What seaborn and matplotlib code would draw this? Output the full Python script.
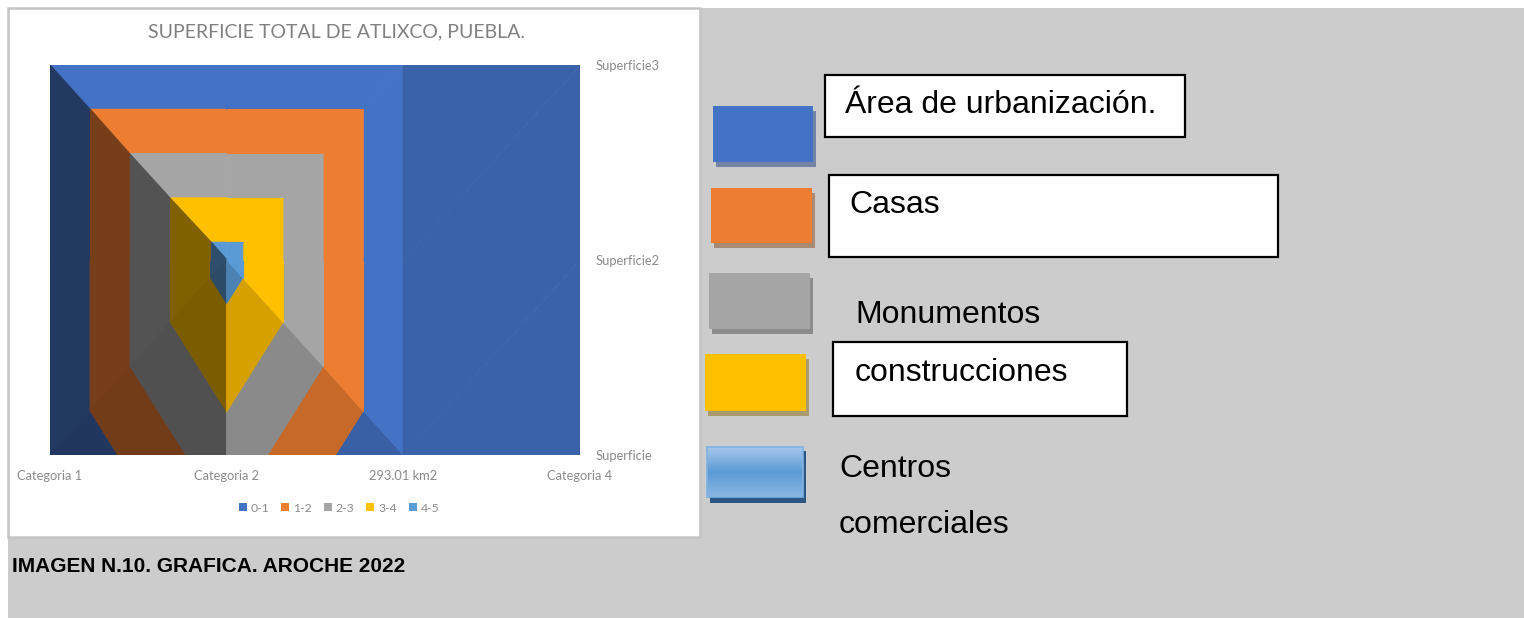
import numpy as np
import matplotlib
matplotlib.use("Agg")
import matplotlib.pyplot as plt
import matplotlib.tri as mtri
from matplotlib.patches import Rectangle, Patch
from matplotlib.colors import to_rgb
import seaborn as sns

# ---------------- data ----------------
categories = ["Categoria 1", "Categoria 2", "293.01 km2", "Categoria 4"]
series_names = ["Superficie", "Superficie2", "Superficie3"]
superficie = [0.0, 2.6, 0.0, 0.0]
superficie2 = [0.0, 4.4, 0.0, 0.0]
superficie3 = [0.0, 0.0, 0.0, 0.0]
band_labels = ["0-1", "1-2", "2-3", "3-4", "4-5"]
band_levels = [0, 1, 2, 3, 4, 5]
band_colors = ["#4472C4", "#ED7D31", "#A5A5A5", "#FFC000", "#5B9BD5"]
title = "SUPERFICIE TOTAL DE ATLIXCO, PUEBLA."
caption = "IMAGEN N.10. GRAFICA. AROCHE 2022"
key_labels = ["Área de urbanización.", "Casas", "Monumentos", "construcciones", "Centros", "comerciales"]

sns.set_theme(style="white")
plt.rcParams["font.family"] = ["Liberation Sans", "DejaVu Sans"]
palette = sns.color_palette(band_colors)
small_font = ["Lato", "DejaVu Sans"]

W, H = 1524, 618
fig = plt.figure(figsize=(W / 100, H / 100), dpi=100)
fig.patch.set_facecolor("white")

# ---------- background / layout layer in pixel coordinates ----------
bg = fig.add_axes([0, 0, 1, 1])
bg.set_xlim(0, W)
bg.set_ylim(H, 0)
bg.axis("off")
bg.add_patch(Rectangle((8, 8), W - 8, H - 8, facecolor="#cccccc", edgecolor="none"))
bg.add_patch(Rectangle((8, 8), 692, 529, facecolor="white", edgecolor="#c4c4c4", lw=1.8))

# ---------- surface (contour) chart ----------
ax = fig.add_axes([50 / W, 1 - 455 / H, 530 / W, 390 / H])
Z = np.array([superficie, superficie2, superficie3])
ny, nx = Z.shape
light = np.array([0.6, 0.6, 0.53])
light = light / np.linalg.norm(light)
zscale = 0.3
levels = [band_levels[0] - 1e-6] + band_levels[1:]

for j in range(ny - 1):
    for i in range(nx - 1):
        corners = [(i, j), (i + 1, j), (i + 1, j + 1), (i, j + 1)]
        vals = [Z[y, x] for x, y in corners]
        k = int(np.argmax(vals))
        tris = [[corners[k], corners[(k + 1) % 4], corners[(k + 2) % 4]],
                [corners[k], corners[(k + 3) % 4], corners[(k + 2) % 4]]]
        for tri in tris:
            xs = np.array([p[0] for p in tri], dtype=float)
            ys = np.array([p[1] for p in tri], dtype=float)
            zs = np.array([Z[p[1], p[0]] for p in tri], dtype=float)
            A = np.column_stack([xs, ys, np.ones(3)])
            gx, gy, _ = np.linalg.solve(A, zs)
            n = np.array([-zscale * gx, -zscale * gy, 1.0])
            n = n / np.linalg.norm(n)
            f = float(np.clip(0.583 + 0.523 * n.dot(light), 0, 1))
            cols = [tuple(np.array(c) * f) for c in palette]
            tr = mtri.Triangulation(xs, ys, triangles=[[0, 1, 2]])
            cs = ax.tricontourf(tr, zs, levels=levels, colors=cols, antialiased=True)
            cs.set_edgecolor("face")
            cs.set_linewidth(0.8)

ax.set_xlim(0, nx - 1)
ax.set_ylim(0, ny - 1)
ax.set_xticks(range(nx))
ax.set_xticklabels(categories, fontsize=9.3, color="#8a8a8a", family=small_font)
ax.yaxis.tick_right()
ax.set_yticks(range(ny))
ax.set_yticklabels(series_names, fontsize=9.3, color="#8a8a8a", family=small_font)
ax.tick_params(axis="x", length=0, pad=11)
ax.tick_params(axis="y", length=0, pad=11)
for s in ax.spines.values():
    s.set_visible(False)

fig.text(336 / W, 1 - 32 / H, title, ha="center", va="center", fontsize=14,
         color="#808080", family=small_font)

handles = [Patch(facecolor=c, edgecolor="none", label=l) for c, l in zip(band_colors, band_labels)]
fig.legend(handles=handles, loc="center", bbox_to_anchor=(339 / W, 1 - 508 / H), ncol=5,
           frameon=False, handlelength=0.65, handleheight=0.65,
           handletextpad=0.3, columnspacing=1.0, labelcolor="#8a8a8a",
           prop={"family": small_font, "size": 8.8})

# ---------- right-hand key ----------
key_rects = [(713, 106, 100, 56, "#4472C4", "#7384a6"),
             (711, 188, 101, 55, "#ED7D31", "#a98a72"),
             (709, 273, 101, 56, "#A5A5A5", "#8c8c8c"),
             (705, 354, 101, 57, "#FFC000", "#a99a6e")]
for x, y, w, h, c, sc in key_rects:
    bg.add_patch(Rectangle((x + 3, y + 5), w, h, facecolor=sc, edgecolor="none"))
    bg.add_patch(Rectangle((x, y), w, h, facecolor=c, edgecolor="none"))

# gradient key (Centros comerciales)
bg.add_patch(Rectangle((710, 451), 96, 52, facecolor="#2d5684", edgecolor="none"))
grad_cols = np.array([to_rgb("#a6c6ea"), to_rgb("#5b9bd5"), to_rgb("#88b6e4")])
t = np.linspace(0, 1, 60)
gr = np.stack([np.interp(t, [0, 0.5, 1], grad_cols[:, ch]) for ch in range(3)], axis=-1)
bg.imshow(gr[:, None, :], extent=(707, 803, 497, 447), aspect="auto", origin="upper", zorder=2)
bg.add_patch(Rectangle((707, 447), 96, 50, facecolor="none", edgecolor="#7db3e3", lw=1.2, zorder=3))
bg.set_xlim(0, W)
bg.set_ylim(H, 0)

# text boxes
for x, y, w, h in [(825, 75, 360, 62), (829, 175, 449, 82), (833, 342, 294, 74)]:
    bg.add_patch(Rectangle((x, y), w, h, facecolor="white", edgecolor="black", lw=1.6, zorder=4))

key_pos = [(845, 105), (849, 205), (855, 315), (855, 373), (839, 469), (839, 525)]
for (x, y), lab in zip(key_pos, key_labels):
    bg.text(x, y, lab, fontsize=23, color="black", ha="left", va="center", zorder=5)

bg.text(12, 567, caption, fontsize=15, fontweight="bold", color="black",
        ha="left", va="center", zorder=5)

fig.savefig("out.png", dpi=100, facecolor=fig.get_facecolor())
